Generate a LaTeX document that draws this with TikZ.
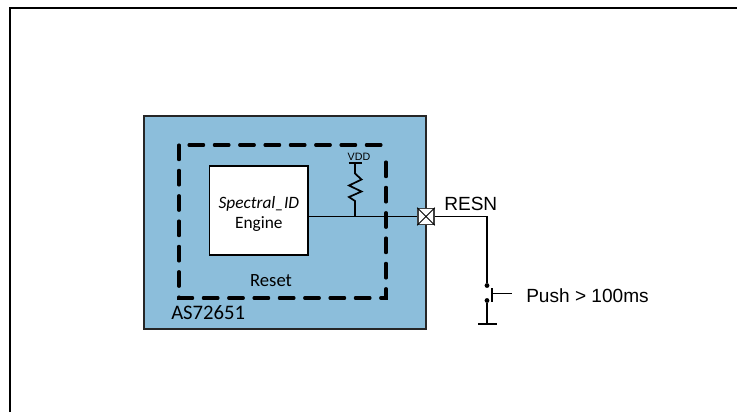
\documentclass[tikz,border=0pt]{standalone}
\usepackage{fontspec}
\setmainfont{Liberation Sans}
\newfontfamily\calfont{Carlito}
\definecolor{chipblue}{HTML}{8CBEDB}
\tikzset{
  wire/.style={draw=black, line width=1.3pt},
  dashbox/.style={draw=black, line width=2.3pt, line cap=round, dash pattern=on 11pt off 8pt},
  dotpin/.style={circle, fill=black, inner sep=0pt, minimum size=3.6pt},
  caltext/.style={font=\calfont\fontsize{13}{15.5}\selectfont, inner sep=0pt},
  sanstext/.style={font=\fontsize{14.3}{16}\selectfont, inner sep=0pt, anchor=west},
}
\begin{document}
\begin{tikzpicture}[x=0.75pt, y=-0.75pt]
    \useasboundingbox (0, 0) rectangle (737, 412);
    \draw[line width=1.5pt] (10, 412) -- (10, 8) -- (737, 8);

    % chip and its blocks
    \node[draw=black!85, line width=1.5pt, fill=chipblue, minimum width=212pt, minimum height=160pt, inner sep=0pt, outer sep=0pt, anchor=north west] (chip) at (143.5, 116) {};
    \node[draw=black, line width=1.4pt, fill=white, minimum width=74pt, minimum height=66.75pt, outer sep=0pt, anchor=north west] (engine) at (209.5, 166) {};
    \node[caltext, align=center] (enginetext) at ([yshift=-2.5pt]engine.center) {\textit{Spectral\_ID}\\Engine};
    \draw[dashbox] (179, 145) -- (179, 298) -- (386, 298) -- (386, 155);
    \draw[dashbox] (189, 145) -- (386, 145);
    \node[caltext, font=\calfont\fontsize{14}{15}\selectfont] (reset) at (271, 281) {Reset};
    \node[caltext, font=\calfont\fontsize{15.5}{17}\selectfont, anchor=west] (part) at (171, 313) {AS72651};

    % pad
    \node[draw=black!75, line width=1.2pt, fill=white, minimum size=12pt, inner sep=0pt] (padbox) at (426, 216.5) {};
    \draw[line width=0.7pt] (padbox.north west) -- (padbox.south east);
    \draw[line width=0.7pt] (padbox.north east) -- (padbox.south west);
    \draw[wire] (engine.east |- padbox.west) -- (padbox.west);

    % pull-up
    \coordinate (tap) at (355, 216.5);
    \coordinate (vddbar) at (355, 163);
    \draw[wire] (tap) -- (355, 201) -- (349, 197) -- (361.5, 191.5) -- (349, 185.5) -- (361.5, 179.5) -- (355, 173.5) -- (vddbar);
    \draw[wire] (348.5, 163) -- (361.5, 163);
    \node[font=\fontsize{8}{9}\selectfont, inner sep=0pt] (vdd) at (359, 157) {VDD};

    % reset button
    \node[sanstext] (resn) at (444, 204) {RESN};
    \node[dotpin] (top) at (487, 285.5) {};
    \node[dotpin] (bot) at (487, 300.5) {};
    \coordinate (corner) at (487, 216.5);
    \coordinate (gnd) at (487, 324);
    \coordinate (plunger) at (492, 293.5);
    \draw[wire] (padbox.east) -- (corner) -- (top);
    \draw[wire] (bot) -- (gnd);
    \draw[wire] (478, 324) -- (497, 324);
    \draw[wire, line width=1.6pt] (492, 288) -- (492, 302);
    \draw[wire] (plunger) -- (512, 293.5);
    \node[sanstext] (push) at (526, 296) {Push > 100ms};
\end{tikzpicture}
\end{document}
